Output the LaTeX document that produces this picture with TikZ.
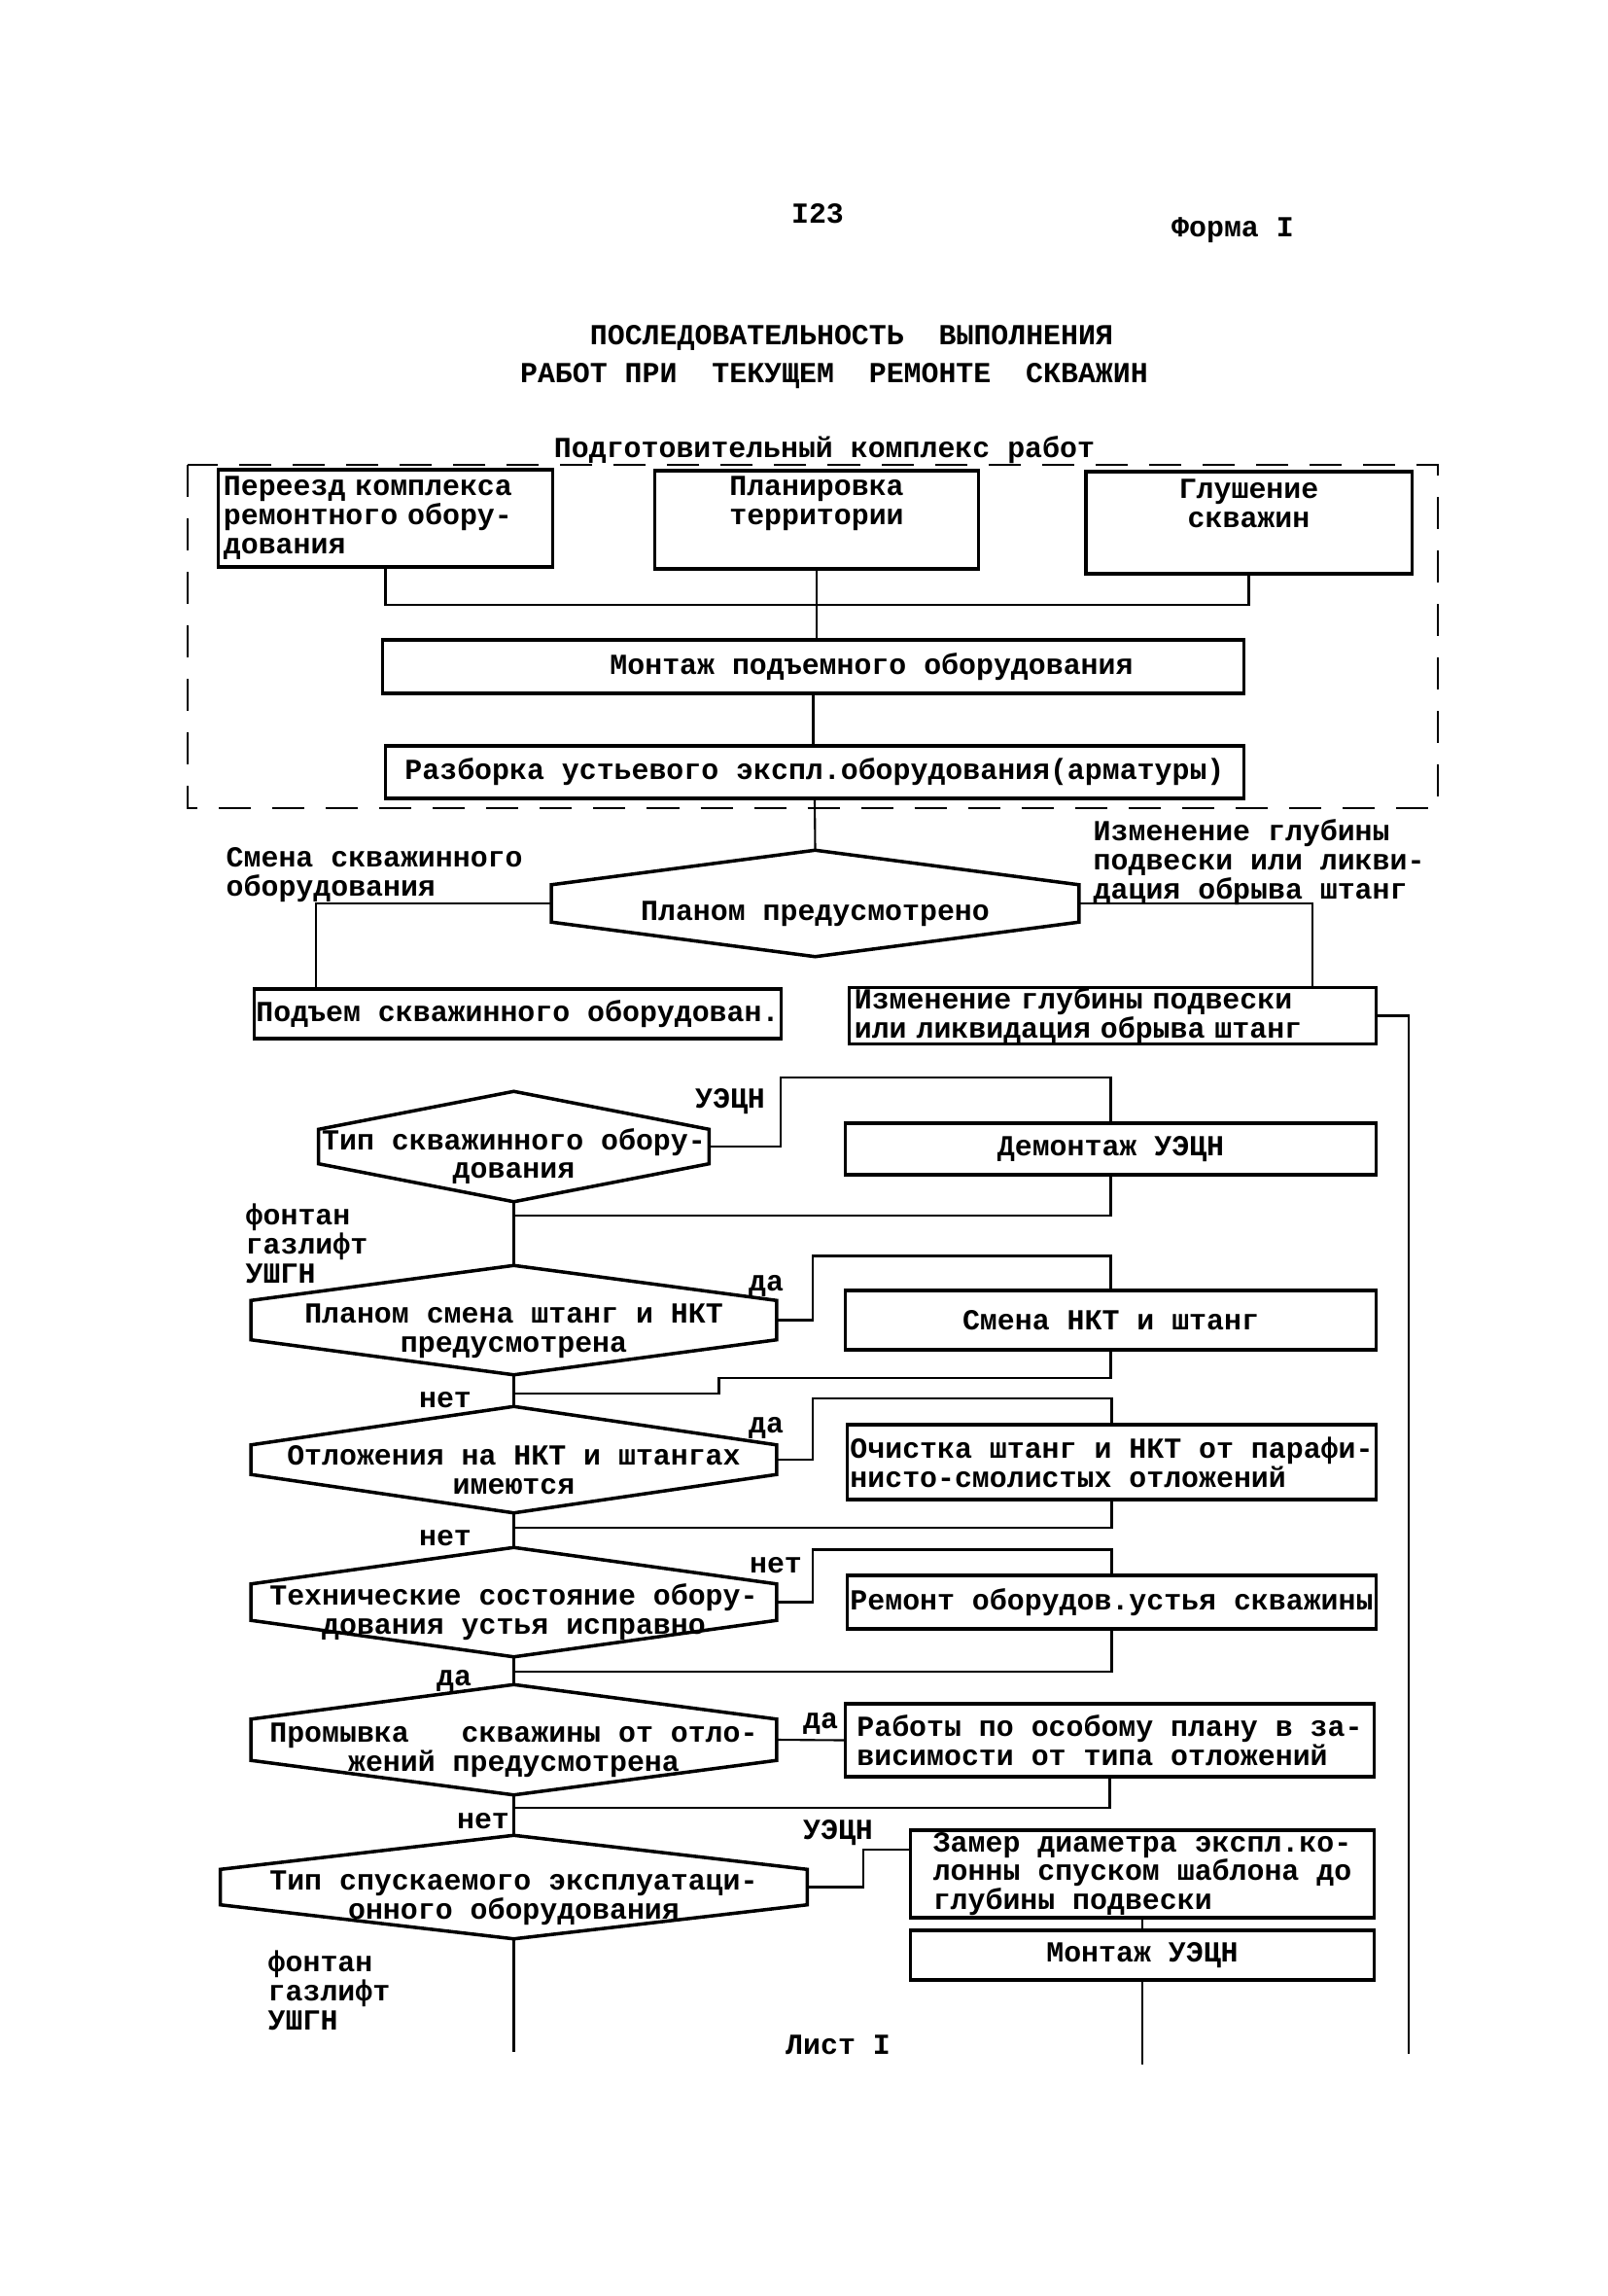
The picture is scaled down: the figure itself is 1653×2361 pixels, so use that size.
\documentclass[tikz,border=0pt]{standalone}
\usepackage{fontspec}
\setmainfont{Liberation Mono}
\newcommand\hexpad{\rule{0pt}{0.42cm}}
\tikzset{
  box/.style={draw, line width=0.9pt, inner xsep=0.05cm, inner ysep=0pt},
  hexnode/.style={inner sep=0pt, align=center},
  hexline/.style={line width=1pt},
  link/.style={line width=0.6pt},
  lbl/.style={inner sep=0pt, align=left}
}
\begin{document}
\begin{tikzpicture}[x=0.01cm, y=-0.01cm, font=\bfseries\fontsize{8.5pt}{8.5pt}\selectfont]
    \useasboundingbox (0,0) rectangle (1653,2361);
    % heading
    \node (page) at (841,220) {I23};
    \node (form) at (1268,237) {Форма I};
    \node (title) at (876,347) {ПОСЛЕДОВАТЕЛЬНОСТЬ~~ВЫПОЛНЕНИЯ};
    \node (title2) at (858,387) {РАБОТ ПРИ~~ТЕКУЩЕМ~~РЕМОНТЕ~~СКВАЖИН};

    % preparatory works
    \node (prep) at (848,463) {Подготовительный комплекс работ};
    \draw[line width=0.7pt, dash pattern=on 0.33cm off 0.22cm] (193,478) rectangle (1479,831);
    \node[box, minimum width=3.43cm, minimum height=1cm, text width=3.33cm, align=left] (relocate) at (396.5,533) {Переезд комплекса\\ремонтного обору-\\дования};
    \node[box, minimum width=3.32cm, minimum height=1.01cm, align=center] (layout) at (840,534.5) {Планировка\\территории\\\strut};
    \node[box, minimum width=3.35cm, minimum height=1.05cm, align=center] (kill) at (1284.5,537.5) {Глушение\\скважин\\\strut};
    \node[box, minimum width=8.85cm, minimum height=0.55cm] (rigup) at (836.5,685.5) {\hspace*{1.2cm}Монтаж подъемного оборудования};
    \node[box, minimum width=8.82cm, minimum height=0.54cm] (wellhead) at (838,794) {Разборка устьевого экспл.оборудования(арматуры)};
    \draw[link] (relocate.south) -- ++(0,37) -| (kill.south);
    \draw[link] (layout.south) -- (layout.south |- rigup.north);
    \draw[link] (rigup.south) -- (rigup.south |- wellhead.north);

    % what the plan asks for
    \node[hexnode, minimum width=5.41cm, minimum height=1.08cm] (planned) at (838.5,929) {\hexpad Планом предусмотрено};
    \draw[hexline] (planned.north) -- ([yshift=-0.355cm]planned.north east) -- ([yshift=0.355cm]planned.south east) -- (planned.south) -- ([yshift=0.355cm]planned.south west) -- ([yshift=-0.355cm]planned.north west) -- cycle;
    \draw[link] (wellhead.south) -- (planned.north);
    \node[lbl, anchor=west] (swapLbl) at (232,900) {Смена скважинного\\оборудования};
    \node[lbl, anchor=west] (depthLbl) at (1124,887) {Изменение глубины\\подвески или ликви-\\дация обрыва штанг};
    \node[box, minimum width=5.41cm, minimum height=0.51cm, inner xsep=0pt] (liftout) at (532.5,1042.5) {Подъем скважинного оборудован.};
    \node[box, minimum width=5.41cm, minimum height=0.55cm, text width=5.31cm, align=left] (depth) at (1144.5,1044.5) {Изменение глубины подвески\\или ликвидация обрыва штанг};
    \draw[link] (planned.west) -| ([xshift=0.65cm]liftout.north west);
    \draw[link] (planned.east) -| ([xshift=-0.67cm]depth.north east);
    \coordinate (rightEnd) at (1449,2112);
    \draw[link] (depth.east) -| (rightEnd);

    % type of well equipment
    \node[hexnode, minimum width=4cm, minimum height=1.12cm] (wellType) at (528.5,1179) {\hexpad Тип скважинного обору-\\дования};
    \draw[hexline] (wellType.north) -- ([yshift=-0.39cm]wellType.north east) -- ([yshift=0.39cm]wellType.south east) -- (wellType.south) -- ([yshift=0.39cm]wellType.south west) -- ([yshift=-0.39cm]wellType.north west) -- cycle;
    \node (espLbl) at (751,1133) {УЭЦН};
    \node[box, minimum width=5.45cm, minimum height=0.53cm] (espOff) at (1142.5,1181.5) {Демонтаж УЭЦН};
    \node[lbl, anchor=west] (kinds) at (252,1279) {фонтан\\газлифт\\УШГН};
    \draw[link] (wellType.east) -| ++(74,-71) -| (espOff.north);
    \draw[link] (espOff.south) |- ([yshift=-0.14cm]wellType.south);

    % rods and tubing
    \node[hexnode, minimum width=5.39cm, minimum height=1.11cm] (rodSwap) at (528.5,1357.5) {\hexpad Планом смена штанг и НКТ\\предусмотрена};
    \draw[hexline] (rodSwap.north) -- ([yshift=-0.36cm]rodSwap.north east) -- ([yshift=0.36cm]rodSwap.south east) -- (rodSwap.south) -- ([yshift=0.36cm]rodSwap.south west) -- ([yshift=-0.36cm]rodSwap.north west) -- cycle;
    \draw[link] (wellType.south) -- (rodSwap.north);
    \node (yes1) at (788,1322) {да};
    \node[box, minimum width=5.45cm, minimum height=0.61cm] (swap) at (1142.5,1357.5) {Смена НКТ и штанг};
    \draw[link] (rodSwap.east) -| ++(37,-66) -| (swap.north);
    \draw[link] (swap.south) |- ++(-403,27) |- ([yshift=-0.19cm]rodSwap.south);
    \node (no1) at (458,1440) {нет};

    % deposits
    \node[hexnode, minimum width=5.39cm, minimum height=1.08cm] (deposit) at (528.5,1501) {\hexpad Отложения на НКТ и штангах\\имеются};
    \draw[hexline] (deposit.north) -- ([yshift=-0.395cm]deposit.north east) -- ([yshift=0.395cm]deposit.south east) -- (deposit.south) -- ([yshift=0.395cm]deposit.south west) -- ([yshift=-0.395cm]deposit.north west) -- cycle;
    \draw[link] (rodSwap.south) -- (deposit.north);
    \node (yes2) at (788,1468) {да};
    \node[box, minimum width=5.43cm, minimum height=0.77cm, inner xsep=0pt, align=left] (clean) at (1143.5,1503.5) {Очистка штанг и НКТ от парафи-\\нисто-смолистых отложений};
    \draw[link] (deposit.east) -| ++(37,-63) -| (clean.north);
    \draw[link] (clean.south) |- ([yshift=-0.15cm]deposit.south);
    \node (no2) at (458,1582) {нет};

    % wellhead condition
    \node[hexnode, minimum width=5.39cm, minimum height=1.11cm] (headOk) at (528.5,1647.5) {\hexpad Технические состояние обору-\\дования устья исправно};
    \draw[hexline] (headOk.north) -- ([yshift=-0.375cm]headOk.north east) -- ([yshift=0.375cm]headOk.south east) -- (headOk.south) -- ([yshift=0.375cm]headOk.south west) -- ([yshift=-0.375cm]headOk.north west) -- cycle;
    \draw[link] (deposit.south) -- (headOk.north);
    \node (no3) at (798,1610) {нет};
    \node[box, minimum width=5.43cm, minimum height=0.55cm, inner xsep=0pt] (repair) at (1143.5,1647.5) {Ремонт оборудов.устья скважины};
    \draw[link] (headOk.east) -| ++(37,-54) -| (repair.north);
    \draw[link] (repair.south) |- ([yshift=-0.15cm]headOk.south);
    \node (yes3) at (467,1728) {да};

    % flushing
    \node[hexnode, minimum width=5.39cm, minimum height=1.12cm] (flush) at (528.5,1789) {\hexpad Промывка~~~скважины от отло-\\жений предусмотрена};
    \draw[hexline] (flush.north) -- ([yshift=-0.355cm]flush.north east) -- ([yshift=0.355cm]flush.south east) -- (flush.south) -- ([yshift=0.355cm]flush.south west) -- ([yshift=-0.355cm]flush.north west) -- cycle;
    \draw[link] (headOk.south) -- (flush.north);
    \node (yes4) at (844,1772) {да};
    \node[box, minimum width=5.43cm, minimum height=0.75cm, align=left] (special) at (1141.5,1789.5) {Работы по особому плану в за-\\висимости от типа отложений};
    \draw[link] (flush.east) -- (special.west);
    \draw[link] (special.south) |- ([yshift=-0.13cm]flush.south);
    \node (no4) at (497,1873) {нет};

    % equipment to run in
    \node[hexnode, minimum width=6.02cm, minimum height=1.05cm] (runType) at (528.5,1940.5) {\hexpad Тип спускаемого эксплуатаци-\\онного оборудования};
    \draw[hexline] (runType.north) -- ([yshift=-0.35cm]runType.north east) -- ([yshift=0.35cm]runType.south east) -- (runType.south) -- ([yshift=0.35cm]runType.south west) -- ([yshift=-0.35cm]runType.north west) -- cycle;
    \draw[link] (flush.south) -- (runType.north);
    \node (espLbl2) at (862,1885) {УЭЦН};
    \node[box, minimum width=4.76cm, minimum height=0.9cm, align=left] (gauge) at (1175,1927) {Замер диаметра экспл.ко-\\лонны спуском шаблона до\\глубины подвески};
    \node[box, minimum width=4.76cm, minimum height=0.51cm] (espOn) at (1175,2010.5) {Монтаж УЭЦН};
    \draw[link] (runType.east) -- ++(58,0) |- ([yshift=0.25cm]gauge.west);
    \draw[link] (gauge.south) -- (espOn.north);
    \coordinate (espEnd) at (1175,2123);
    \draw[link] (espOn.south) -- (espEnd);
    \coordinate (mainEnd) at (528.5,2110);
    \draw[link] (runType.south) -- (mainEnd);
    \node[lbl, anchor=west] (kinds2) at (275,2047) {фонтан\\газлифт\\УШГН};
    \node (sheet) at (862,2103) {Лист I};
\end{tikzpicture}
\end{document}
